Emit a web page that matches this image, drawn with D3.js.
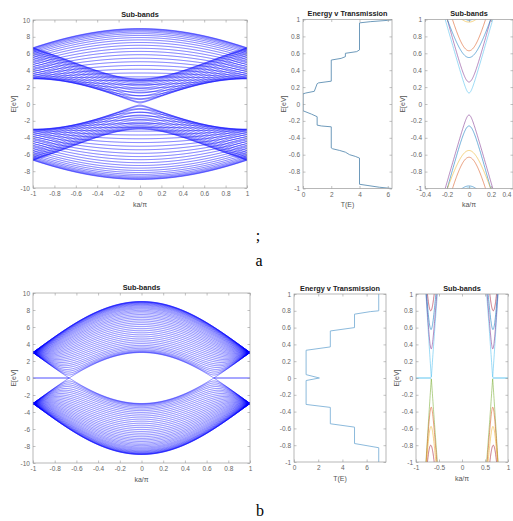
<!DOCTYPE html>
<html>
<head>
<meta charset="utf-8">
<script src="https://cdn.jsdelivr.net/npm/d3@7"></script>
<style>
body { margin: 0; background: #fff; }
svg { display: block; font-family: "Liberation Sans", Arial, sans-serif; }
.tick text { font-size: 6.5px; fill: #666; font-family: "Liberation Sans", Arial, sans-serif; }
.tick line { stroke: #999; stroke-width: 0.6; }
.domain { display: none; }
</style>
</head>
<body>
<script>
// ---- data ----
// (a) armchair-type ribbon: band energy at ka/pi = 0 and at the zone edge ka/pi = +-1 (eV)
var armK0 = [8.98, 8.93, 8.84, 8.72, 8.57, 8.38, 8.16, 7.91, 7.63, 7.32, 6.99, 6.63, 6.26, 5.87, 5.45,
  5.03, 4.59, 4.14, 3.69, 3.23, 2.77, 2.31, 1.86, 1.41, 0.97, 0.55, 0.13, 0.26, 0.63, 0.99,
  1.32, 1.63, 1.91, 2.16, 2.38, 2.57, 2.72, 2.84, 2.93, 2.98];
var armEdge = [6.69, 6.65, 6.57, 6.46, 6.32, 6.16, 5.97, 5.75, 5.52, 5.26, 4.99, 4.71, 4.43, 4.15, 3.88,
  3.62, 3.40, 3.21, 3.08, 3.01, 3.01, 3.08, 3.21, 3.40, 3.62, 3.88, 4.15, 4.43, 4.71, 4.99,
  5.26, 5.52, 5.75, 5.97, 6.16, 6.32, 6.46, 6.57, 6.65, 6.69];

// (b) zigzag-type ribbon: band energy at ka/pi = 0, all bands meet at t = 3 eV at the zone edge
var zigK0 = [3.00, 3.04, 3.11, 3.21, 3.33, 3.49, 3.66, 3.84, 4.05, 4.26, 4.48, 4.70, 4.93, 5.16,
  5.39, 5.62, 5.84, 6.07, 6.29, 6.50, 6.71, 6.91, 7.11, 7.29, 7.47, 7.65, 7.81, 7.96, 8.11,
  8.24, 8.36, 8.48, 8.58, 8.67, 8.75, 8.82, 8.88, 8.93, 8.96, 8.99, 9.00];
var zigEdgeE = 3.0;
var flatBandK = [0.667, 1.0];   // zero-energy edge state, |ka/pi| range

// sub-bands close to the gap, zoomed panels
var nearGapA = [0.13, 0.26, 0.55, 0.63, 0.97, 0.99];
var nearGapAUp = ["#4DBEEE", "#7E2F8E", "#0072BD", "#D95319", "#EDB120", "#0072BD"];
var nearGapADown = ["#7E2F8E", "#0072BD", "#EDB120", "#D95319", "#0072BD", "#4DBEEE"];
var nearGapB = [3.00, 3.04, 3.11, 3.21];
var nearGapBUp = ["#4DBEEE", "#7E2F8E", "#0072BD", "#A2142F"];
var nearGapBDown = ["#77AC30", "#D95319", "#EDB120", "#A2142F"];

// transmission T(E)
var transAE = [-1.00, -0.985, -0.965, -0.95, -0.64, -0.62, -0.60, -0.57, -0.55, -0.53, -0.52, -0.27, -0.26,
  -0.25, -0.15, -0.12, -0.08, 0.12, 0.13, 0.15, 0.24, 0.25, 0.27, 0.52, 0.54, 0.56, 0.60, 0.62,
  0.64, 0.96, 0.975, 0.99, 1.00];
var transAT = [6.3, 5.4, 4.6, 4.0, 4.0, 3.7, 3.3, 3.0, 2.6, 2.1, 2.0, 2.0, 1.3,
  1.0, 1.0, 0.6, 0.0, 0.0, 0.2, 0.8, 1.0, 1.1, 2.0, 2.0, 2.7, 3.0, 3.0, 3.8,
  4.0, 4.0, 4.8, 6.0, 6.3];
var transBE = [-1.00, -0.83, -0.78, -0.585, -0.545, -0.35, -0.315, -0.03, 0.0, 0.04, 0.33, 0.37,
  0.56, 0.60, 0.76, 0.79, 0.80, 1.00];
var transBT = [7.0, 7.0, 5.0, 5.0, 3.0, 3.0, 1.0, 1.0, 2.1, 1.0, 1.0, 3.0,
  3.0, 5.0, 5.0, 6.3, 7.0, 7.0];

// ticks
var fullETicks = [-10, -8, -6, -4, -2, 0, 2, 4, 6, 8, 10];
var fullKTicks = [-1, -0.8, -0.6, -0.4, -0.2, 0, 0.2, 0.4, 0.6, 0.8, 1];
var zoomETicks = [-1, -0.8, -0.6, -0.4, -0.2, 0, 0.2, 0.4, 0.6, 0.8, 1];
var transATicks = [0, 2, 4, 6];
var transBTicks = [0, 2, 4, 6];
var zoomKTicksA = [-0.4, -0.2, 0, 0.2, 0.4];
var zoomKTicksB = [-1, -0.5, 0, 0.5, 1];

// ---- drawing ----
var W = 513, H = 521;
var svg = d3.select("body").append("svg").attr("width", W).attr("height", H);

// tight-binding shape between the read end points
function armBand(e0, e1) {
  return function(k) {
    var u = Math.cos(Math.PI * k / 2);
    return Math.sqrt(Math.max(0, e1 * e1 + (e0 * e0 - e1 * e1) * u));
  };
}
function zigBand(e0) {
  var t = zigEdgeE;
  return function(k) {
    var u = Math.cos(Math.PI * k / 2);
    return Math.sqrt(Math.max(0, t * t * (1 + 4 * u * u) + (e0 * e0 - 5 * t * t) * u));
  };
}

var clipCount = 0;
function makePanel(p) {
  var g = svg.append("g").attr("transform", "translate(" + p.left + "," + p.top + ")");
  var x = d3.scaleLinear().domain(p.xDomain).range([0, p.w]);
  var y = d3.scaleLinear().domain(p.yDomain).range([p.h, 0]);
  var id = "clip" + (clipCount++);
  g.append("clipPath").attr("id", id).append("rect").attr("width", p.w).attr("height", p.h);
  var plot = g.append("g").attr("clip-path", "url(#" + id + ")");
  var fmt = function(d) { return String(d); };

  var bottom = g.append("g").attr("transform", "translate(0," + p.h + ")")
    .call(d3.axisBottom(x).tickValues(p.xTicks).tickSize(-2.5).tickPadding(3.5).tickFormat(fmt));
  if (p.lastLabelEnd) {
    // the panel runs into the right border of the figure
    bottom.selectAll(".tick text").filter(function(d, i, n) { return i === n.length - 1; })
      .attr("text-anchor", "end").attr("dx", -2);
  }
  g.append("g").call(d3.axisTop(x).tickValues(p.xTicks).tickSize(-2.5).tickFormat(""));
  g.append("g")
    .call(d3.axisLeft(y).tickValues(p.yTicks).tickSize(-2.5).tickPadding(3).tickFormat(fmt));
  g.append("g").attr("transform", "translate(" + p.w + ",0)")
    .call(d3.axisRight(y).tickValues(p.yTicks).tickSize(-2.5).tickFormat(""));
  g.append("rect").attr("width", p.w).attr("height", p.h)
    .attr("fill", "none").attr("stroke", "#999").attr("stroke-width", 0.7);

  g.append("text").attr("x", p.w / 2).attr("y", -3.5).attr("text-anchor", "middle")
    .attr("font-size", 7.3).attr("font-weight", "bold").attr("fill", "#222").text(p.title);
  g.append("text").attr("x", p.w / 2).attr("y", p.h + 18.5).attr("text-anchor", "middle")
    .attr("font-size", 7).attr("fill", "#555").text(p.xlabel);
  if (p.ylabel) {
    g.append("text").attr("transform", "translate(" + (-p.ylabelOff) + "," + (p.h / 2) + ") rotate(-90)")
      .attr("text-anchor", "middle").attr("font-size", 7).attr("fill", "#555").text(p.ylabel);
  }
  return { plot: plot, x: x, y: y };
}

var kFine = d3.range(-1, 1.00001, 0.004);

function drawBands(panel, fns, colours, width, opacity) {
  var line = d3.line().x(function(d) { return panel.x(d[0]); }).y(function(d) { return panel.y(d[1]); });
  fns.forEach(function(f, i) {
    [1, -1].forEach(function(sgn) {
      var pts = kFine.map(function(k) { return [k, sgn * f(k)]; });
      var col = typeof colours === "string" ? colours : (sgn > 0 ? colours.up[i] : colours.down[i]);
      panel.plot.append("path").attr("d", line(pts)).attr("fill", "none")
        .attr("stroke", col).attr("stroke-width", width).attr("stroke-opacity", opacity);
    });
  });
}

function drawTrans(panel, es, ts, colour) {
  var pts = es.map(function(e, i) { return [ts[i], e]; });
  var line = d3.line().x(function(d) { return panel.x(d[0]); }).y(function(d) { return panel.y(d[1]); });
  panel.plot.append("path").attr("d", line(pts)).attr("fill", "none")
    .attr("stroke", colour).attr("stroke-width", 0.9);
}

// ---- (a) ----
var a1 = makePanel({ left: 33, top: 20, w: 214, h: 168, xDomain: [-1, 1], yDomain: [-10, 10],
  xTicks: fullKTicks, yTicks: fullETicks, title: "Sub-bands", xlabel: "ka/\u03c0", ylabel: "E[eV]", ylabelOff: 17 });
drawBands(a1, armK0.map(function(e0, i) { return armBand(e0, armEdge[i]); }), "#0000ff", 0.6, 0.9);

var a2 = makePanel({ left: 303, top: 19.5, w: 89, h: 169, xDomain: [0, 6.3], yDomain: [-1, 1],
  xTicks: transATicks, yTicks: zoomETicks, title: "Energy v Transmission", xlabel: "T(E)", ylabel: "E[eV]", ylabelOff: 17 });
drawTrans(a2, transAE, transAT, "#5d8fb3");

var a3 = makePanel({ left: 425, top: 19.5, w: 88, h: 169, xDomain: [-0.4, 0.4], yDomain: [-1, 1],
  xTicks: zoomKTicksA, yTicks: zoomETicks, title: "Sub-bands", xlabel: "ka/\u03c0", ylabel: "E[eV]", ylabelOff: 20,
  lastLabelEnd: true });
drawBands(a3, nearGapA.map(function(e0) {
  var j = armK0.indexOf(e0);
  return armBand(e0, armEdge[j]);
}), { up: nearGapAUp, down: nearGapADown }, 1, 0.55);

// ---- (b) ----
var b1 = makePanel({ left: 33, top: 293, w: 217, h: 170, xDomain: [-1, 1], yDomain: [-10, 10],
  xTicks: fullKTicks, yTicks: fullETicks, title: "Sub-bands", xlabel: "ka/\u03c0", ylabel: "E[eV]", ylabelOff: 17 });
drawBands(b1, zigK0.map(zigBand), "#0000ff", 0.55, 0.85);

function drawFlat(panel, colour, width) {
  [-1, 1].forEach(function(s) {
    panel.plot.append("line")
      .attr("x1", panel.x(s * flatBandK[0])).attr("x2", panel.x(s * flatBandK[1]))
      .attr("y1", panel.y(0)).attr("y2", panel.y(0))
      .attr("stroke", colour).attr("stroke-width", width);
  });
}
drawFlat(b1, "#3a3aff", 0.9);

var b2 = makePanel({ left: 294, top: 294, w: 92, h: 168, xDomain: [0, 7.6], yDomain: [-1, 1],
  xTicks: transBTicks, yTicks: zoomETicks, title: "Energy v Transmission", xlabel: "T(E)", ylabel: null });
drawTrans(b2, transBE, transBT, "#7fb2d8");

var b3 = makePanel({ left: 416, top: 294, w: 92, h: 168, xDomain: [-1, 1], yDomain: [-1, 1],
  xTicks: zoomKTicksB, yTicks: zoomETicks, title: "Sub-bands", xlabel: "ka/\u03c0", ylabel: "E[eV]", ylabelOff: 17 });
drawBands(b3, nearGapB.map(zigBand), { up: nearGapBUp, down: nearGapBDown }, 1, 0.55);
drawFlat(b3, "#4DBEEE", 0.9);

// ---- captions ----
svg.append("text").attr("x", 258).attr("y", 241).attr("text-anchor", "middle")
  .attr("font-family", "Liberation Serif, Times New Roman, serif").attr("font-size", 16).text(";");
svg.append("text").attr("x", 259).attr("y", 266).attr("text-anchor", "middle")
  .attr("font-family", "Liberation Serif, Times New Roman, serif").attr("font-size", 16).text("a");
svg.append("text").attr("x", 260).attr("y", 516).attr("text-anchor", "middle")
  .attr("font-family", "Liberation Serif, Times New Roman, serif").attr("font-size", 16).text("b");
</script>
</body>
</html>
